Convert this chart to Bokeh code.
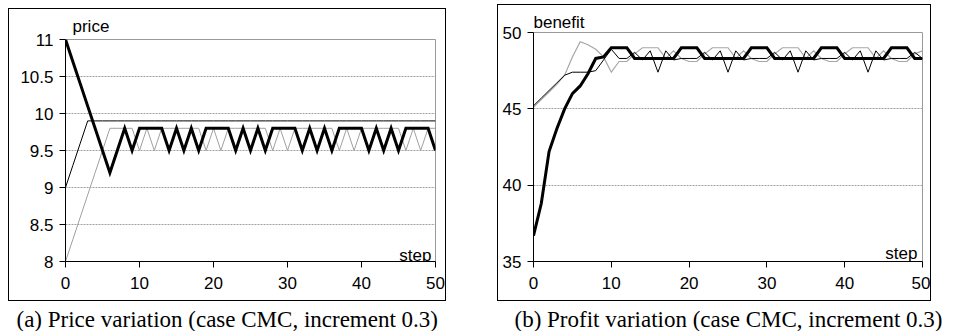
from bokeh.plotting import figure
from bokeh.models import Range1d, FixedTicker, Label, Spacer, Title
from bokeh.layouts import row, column
from bokeh.embed import file_html
from bokeh.resources import INLINE

steps = list(range(51))

# (a) price variation
price_upper = [11.0, 10.7, 10.4, 10.1, 9.8, 9.5, 9.2, 9.5, 9.8, 9.5,
               9.8, 9.8, 9.8, 9.8, 9.5, 9.8, 9.5, 9.8, 9.5,
               9.8, 9.8, 9.8, 9.8, 9.5, 9.8, 9.5, 9.8, 9.5,
               9.8, 9.8, 9.8, 9.8, 9.5, 9.8, 9.5, 9.8, 9.5,
               9.8, 9.8, 9.8, 9.8, 9.5, 9.8, 9.5, 9.8, 9.5,
               9.8, 9.8, 9.8, 9.8, 9.5]
price_middle = [9.0, 9.3, 9.6, 9.9, 9.9, 9.9, 9.9, 9.9, 9.9, 9.9,
                9.9, 9.9, 9.9, 9.9, 9.9, 9.9, 9.9, 9.9, 9.9,
                9.9, 9.9, 9.9, 9.9, 9.9, 9.9, 9.9, 9.9, 9.9,
                9.9, 9.9, 9.9, 9.9, 9.9, 9.9, 9.9, 9.9, 9.9,
                9.9, 9.9, 9.9, 9.9, 9.9, 9.9, 9.9, 9.9, 9.9,
                9.9, 9.9, 9.9, 9.9, 9.9]
price_lower = [8.0, 8.3, 8.6, 8.9, 9.2, 9.5, 9.8, 9.8, 9.8, 9.8,
               9.5, 9.8, 9.5, 9.8, 9.8, 9.8, 9.8, 9.8, 9.8,
               9.5, 9.8, 9.5, 9.8, 9.8, 9.8, 9.8, 9.8, 9.8,
               9.5, 9.8, 9.5, 9.8, 9.8, 9.8, 9.8, 9.8, 9.8,
               9.5, 9.8, 9.5, 9.8, 9.8, 9.8, 9.8, 9.8, 9.8,
               9.5, 9.8, 9.5, 9.8, 9.8]
price_ticks = [8.0, 8.5, 9.0, 9.5, 10.0, 10.5, 11.0]
price_tick_labels = ["8", "8.5", "9", "9.5", "10", "10.5", "11"]

# (b) profit variation
benefit_thick = [36.7, 38.8, 42.2, 43.7, 45.0, 46.0, 46.5, 47.3, 48.3, 48.4,
                 49.0, 49.0, 49.0, 48.3, 48.3, 48.3, 48.3, 48.3, 48.3,
                 49.0, 49.0, 49.0, 48.3, 48.3, 48.3, 48.3, 48.3, 48.3,
                 49.0, 49.0, 49.0, 48.3, 48.3, 48.3, 48.3, 48.3, 48.3,
                 49.0, 49.0, 49.0, 48.3, 48.3, 48.3, 48.3, 48.3, 48.3,
                 49.0, 49.0, 49.0, 48.3, 48.3]
benefit_thin = [45.2, 45.7, 46.2, 46.7, 47.2, 47.4, 47.4, 47.4, 47.5, 48.2,
                48.9, 48.3, 48.3, 48.7, 48.2, 48.8, 47.4, 48.8, 48.2,
                48.3, 48.3, 48.3, 48.7, 48.2, 48.8, 47.4, 48.8, 48.2,
                48.3, 48.3, 48.3, 48.7, 48.2, 48.8, 47.4, 48.8, 48.2,
                48.3, 48.3, 48.3, 48.7, 48.2, 48.8, 47.4, 48.8, 48.2,
                48.3, 48.3, 48.3, 48.7, 48.3]
benefit_gray = [45.1, 45.6, 46.1, 46.6, 47.2, 48.4, 49.4, 49.2, 48.9, 48.4,
                47.4, 48.1, 48.1, 48.6, 49.0, 49.0, 49.0, 48.3, 48.8,
                48.3, 48.1, 48.1, 48.6, 49.0, 49.0, 49.0, 48.3, 48.8,
                48.3, 48.1, 48.1, 48.6, 49.0, 49.0, 49.0, 48.3, 48.8,
                48.3, 48.1, 48.1, 48.6, 49.0, 49.0, 49.0, 48.3, 48.8,
                48.3, 48.1, 48.1, 48.6, 48.8]
benefit_ticks = [35, 40, 45, 50]
benefit_tick_labels = ["35", "40", "45", "50"]

x_ticks = [0, 10, 20, 30, 40, 50]

caption_a = "(a) Price variation (case CMC, increment 0.3)"
caption_b = "(b) Profit variation (case CMC, increment 0.3)"

SANS = "Liberation Sans"
SERIF = "Liberation Serif"
FS = "17px"


def make_chart(width, height, borders, yr, yticks, ylabels, series,
               ylab, ylab_off, ylab_standoff, step_off):
    p = figure(width=width, height=height,
               x_range=Range1d(0, 50), y_range=Range1d(*yr),
               toolbar_location=None, output_backend="svg",
               min_border_left=borders[0], min_border_right=borders[1],
               min_border_top=borders[2], min_border_bottom=borders[3],
               outline_line_color="#9a9a9a", outline_line_width=1)
    p.styles = {"border": "1px solid black"}
    p.add_layout(Title(text=ylab, align="left", offset=ylab_off, standoff=ylab_standoff,
                       text_font=SANS, text_font_size=FS, text_font_style="normal",
                       text_color="black"), "above")
    p.xgrid.visible = False
    p.ygrid.grid_line_color = "#a0a0a0"
    p.ygrid.grid_line_dash = "2 1"
    p.ygrid.grid_line_width = 1
    p.xaxis.ticker = FixedTicker(ticks=x_ticks)
    p.yaxis.ticker = FixedTicker(ticks=yticks)
    p.yaxis.major_label_overrides = dict(zip(yticks, ylabels))
    for ax in (p.xaxis, p.yaxis):
        ax.axis_line_color = "black"
        ax.axis_line_width = 1
        ax.major_tick_line_color = "black"
        ax.major_tick_in = 0
        ax.major_tick_out = 6
        ax.minor_tick_line_color = None
        ax.major_label_text_font = SANS
        ax.major_label_text_font_size = FS
        ax.major_label_text_color = "black"
    p.xaxis.major_label_standoff = 9
    p.yaxis.major_label_standoff = 6
    for ys, color, w in series:
        p.line(steps, ys, line_color=color, line_width=w, line_join="miter")
    p.add_layout(Label(x=50, y=yr[0], text="step", x_offset=step_off[0], y_offset=step_off[1],
                       text_font=SANS, text_font_size=FS, text_color="black",
                       text_baseline="alphabetic", text_align="right"))
    return p


def make_caption(width, text, off):
    c = figure(width=width, height=30, x_range=Range1d(0, 1), y_range=Range1d(0, 1),
               toolbar_location=None, output_backend="svg",
               x_axis_location=None, y_axis_location=None, min_border=0,
               outline_line_color=None)
    c.xgrid.visible = False
    c.ygrid.visible = False
    c.add_layout(Title(text=text, align="left", offset=off, standoff=0,
                       text_font=SERIF, text_font_size="23px", text_font_style="normal",
                       text_color="black"), "below")
    return c


pa = make_chart(438, 293, (56, 12, 30, 41), (8, 11), price_ticks, price_tick_labels,
                [(price_lower, "#a0a0a0", 1), (price_middle, "black", 1),
                 (price_upper, "black", 3)],
                "price", 7, 8, (-4, 6))
pb = make_chart(434, 297, (35, 10, 27, 41), (35, 50), benefit_ticks, benefit_tick_labels,
                [(benefit_gray, "#a6a6a6", 1.2), (benefit_thin, "black", 1),
                 (benefit_thick, "black", 3)],
                "benefit", 0, 2, (-5, 8))

ca = make_caption(440, caption_a, -48)
cb = make_caption(462, caption_b, -18)

layout = row(Spacer(width=8, height=10),
             column(Spacer(width=10, height=8), pa, ca),
             Spacer(width=49, height=10),
             column(Spacer(width=10, height=4), pb, cb))

open("out.html", "w").write(file_html(layout, INLINE))
